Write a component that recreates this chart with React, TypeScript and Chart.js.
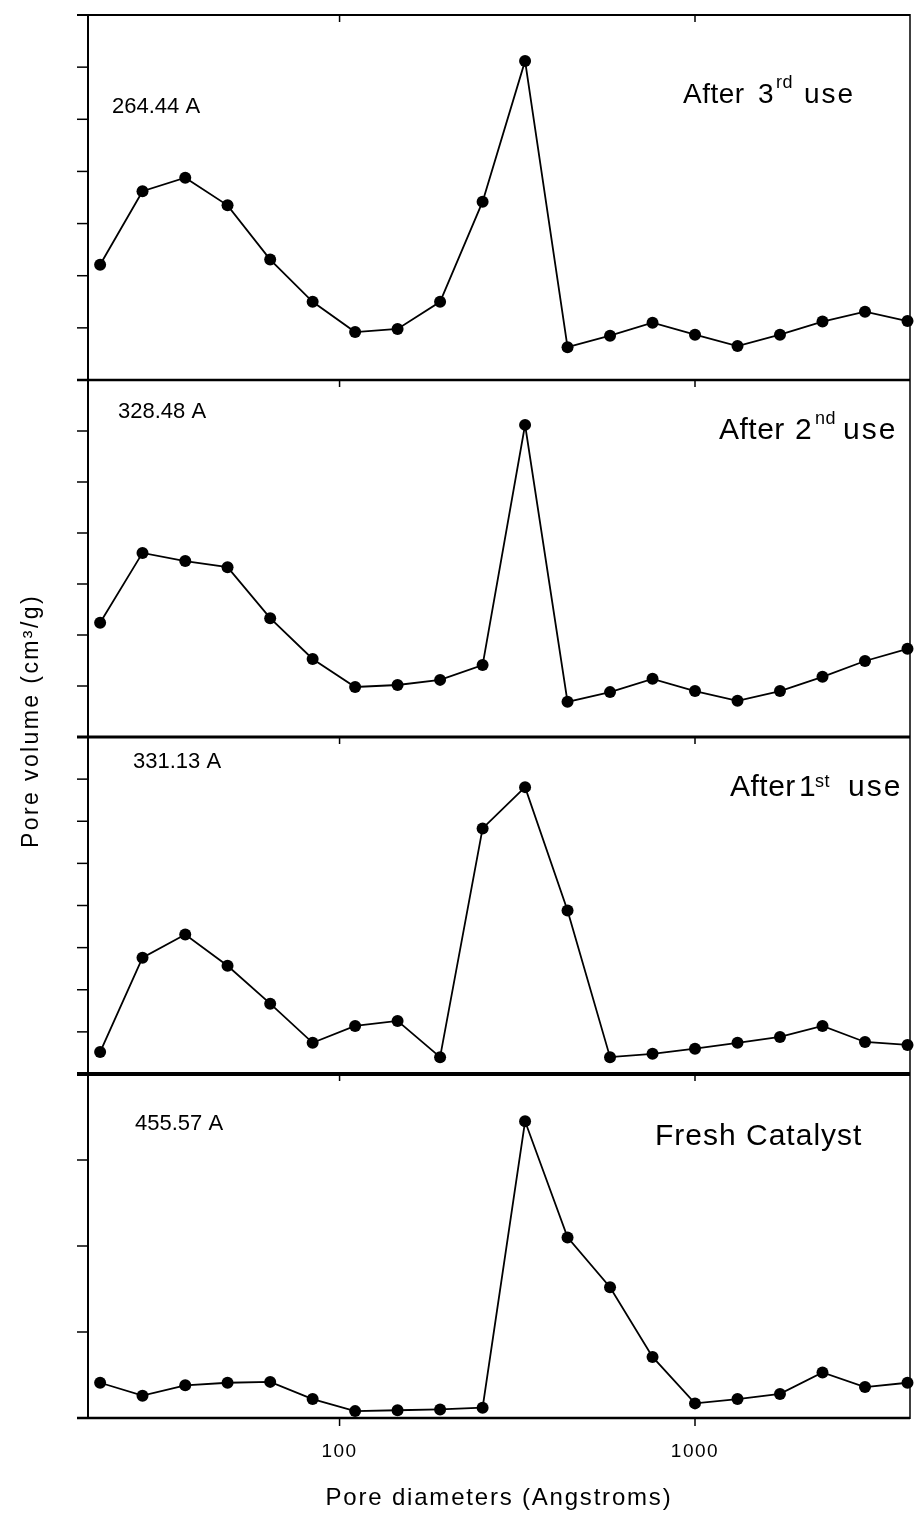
import { useEffect, useRef } from "react";
import { Chart, registerables } from "chart.js";

Chart.register(...registerables);

// Pore diameters (Angstroms)
const diameters = [21.2, 27.9, 36.8, 48.4, 63.8, 84.0, 110.6, 145.6, 191.8, 252.6, 332.6, 437.9, 576.7, 759.5, 1000, 1317, 1734, 2284, 3008, 3961];

// Pore volume (arbitrary panel units, one unit = one minor tick)
const after3rd = [2.21, 3.62, 3.88, 3.35, 2.31, 1.5, 0.92, 0.98, 1.5, 3.42, 6.12, 0.63, 0.85, 1.1, 0.87, 0.65, 0.87, 1.12, 1.31, 1.13];
const after2nd = [2.24, 3.61, 3.45, 3.33, 2.33, 1.53, 0.98, 1.02, 1.12, 1.41, 6.12, 0.69, 0.88, 1.14, 0.9, 0.71, 0.9, 1.18, 1.49, 1.73];
const after1st = [0.52, 2.76, 3.31, 2.57, 1.67, 0.74, 1.14, 1.26, 0.4, 5.83, 6.81, 3.88, 0.4, 0.48, 0.6, 0.74, 0.88, 1.14, 0.76, 0.69];
const fresh = [0.41, 0.26, 0.38, 0.41, 0.42, 0.22, 0.08, 0.09, 0.1, 0.12, 3.45, 2.1, 1.52, 0.71, 0.17, 0.22, 0.28, 0.53, 0.36, 0.41];

const xTickValues = [100, 1000];
const xTickLabels = ["100", "1000"];
const peakLabels = ["264.44 A", "328.48 A", "331.13 A", "455.57 A"];
const panelOrdinals = ["3", "2", "1"];
const panelSuffixes = ["rd", "nd", "st"];
const freshLabel = "Fresh Catalyst";
const xTitle = "Pore diameters (Angstroms)";
const yTitle = "Pore volume (cm³/g)";

const panels = [
  { id: "y1", values: after3rd, max: 7, stackWeight: 365, weight: 4 },
  { id: "y2", values: after2nd, max: 7, stackWeight: 357, weight: 3 },
  { id: "y3", values: after1st, max: 8, stackWeight: 337, weight: 2 },
  { id: "y4", values: fresh, max: 4, stackWeight: 344, weight: 1 },
];

const FONT = "'Liberation Sans', Arial, sans-serif";

function line(ctx: CanvasRenderingContext2D, x1: number, y1: number, x2: number, y2: number, w: number) {
  ctx.lineWidth = w;
  ctx.beginPath();
  ctx.moveTo(x1, y1);
  ctx.lineTo(x2, y2);
  ctx.stroke();
}

function txt(ctx: CanvasRenderingContext2D, s: string, x: number, y: number, size: number, spacing = 0, align: CanvasTextAlign = "left") {
  ctx.font = `${size}px ${FONT}`;
  (ctx as any).letterSpacing = `${spacing}px`;
  ctx.textAlign = align;
  ctx.textBaseline = "alphabetic";
  ctx.fillText(s, x, y);
}

const framePlugin = {
  id: "frame",
  beforeDatasetsDraw(chart: any) {
    const ctx: CanvasRenderingContext2D = chart.ctx;
    const { left, right, top, bottom } = chart.chartArea;
    const xs = chart.scales.x;
    ctx.save();
    ctx.strokeStyle = "#000";
    ctx.lineCap = "butt";
    const sepWidths = [2, 2.5, 3, 4];
    panels.forEach((p, i) => {
      const s = chart.scales[p.id];
      for (let v = 0; v <= p.max; v++) {
        const y = s.getPixelForValue(v);
        line(ctx, left - 11, y, left, y, 1.5);
      }
      xTickValues.forEach((t) => {
        const x = xs.getPixelForValue(t);
        line(ctx, x, s.top, x, s.top + 7, 1.5);
        if (i === panels.length - 1) line(ctx, x, s.bottom, x, s.bottom + 8, 1.5);
      });
      line(ctx, left - 11, s.top, right, s.top, sepWidths[i]);
    });
    line(ctx, left - 11, bottom, right, bottom, 2.5);
    line(ctx, left, top - 1, left, bottom + 1, 2);
    line(ctx, right, top - 1, right, bottom + 1, 1.5);
    ctx.restore();
  },
  afterDraw(chart: any) {
    const ctx: CanvasRenderingContext2D = chart.ctx;
    const xs = chart.scales.x;
    ctx.save();
    ctx.fillStyle = "#000";
    // peak diameter labels
    const peakPos = [
      [112, 113],
      [118, 418],
      [133, 768],
      [135, 1130],
    ];
    peakLabels.forEach((s, i) => txt(ctx, s, peakPos[i][0], peakPos[i][1], 22, 0));
    // "After n-th use" labels: [After x, num x, sup x, use x, baseline, sup baseline, size]
    const usePos = [
      [683, 758, 776, 804, 103, 88, 28],
      [719, 795, 815, 843, 439, 424, 30],
      [730, 799, 815, 848, 796, 787, 30],
    ];
    usePos.forEach((p, i) => {
      txt(ctx, "After", p[0], p[4], p[6], 0.5);
      txt(ctx, panelOrdinals[i], p[1], p[4], p[6], 0);
      txt(ctx, panelSuffixes[i], p[2], p[5], 18, 0.5);
      txt(ctx, "use", p[3], p[4], p[6], 2);
    });
    txt(ctx, freshLabel, 655, 1145, 30, 1);
    // x tick labels
    xTickValues.forEach((t, i) => {
      txt(ctx, xTickLabels[i], xs.getPixelForValue(t), 1457, 19, 1.5, "center");
    });
    // axis titles
    txt(ctx, xTitle, 499, 1505, 24, 1.8, "center");
    ctx.translate(38, 721);
    ctx.rotate(-Math.PI / 2);
    txt(ctx, yTitle, 0, 0, 23, 2.4, "center");
    ctx.restore();
  },
};

export default function App() {
  const ref = useRef<HTMLCanvasElement>(null);
  useEffect(() => {
    if (!ref.current) return;
    const scales: any = {
      x: { type: "logarithmic", min: 19.6, max: 4026, display: false },
    };
    panels.forEach((p) => {
      scales[p.id] = {
        type: "linear",
        position: "left",
        min: 0,
        max: p.max,
        display: false,
        stack: "panels",
        stackWeight: p.stackWeight,
        weight: p.weight,
      };
    });
    const chart = new Chart(ref.current, {
      type: "line",
      data: {
        datasets: panels.map((p) => ({
          label: p.id,
          yAxisID: p.id,
          data: p.values.map((v, i) => ({ x: diameters[i], y: v })),
          borderColor: "#000",
          borderWidth: 1.8,
          pointRadius: 6,
          pointBackgroundColor: "#000",
          pointBorderWidth: 0,
          tension: 0,
          clip: false as any,
        })),
      },
      options: {
        responsive: false,
        animation: false,
        layout: { padding: { left: 88, right: 6, top: 15, bottom: 95 } },
        plugins: { legend: { display: false }, tooltip: { enabled: false } },
        scales,
      },
      plugins: [framePlugin],
    });
    return () => chart.destroy();
  }, []);
  return (
    <div style={{ position: "absolute", left: 0, top: 0, width: 916, height: 1513, background: "#fff" }}>
      <canvas ref={ref} width={916} height={1513} style={{ display: "block" }} />
    </div>
  );
}
